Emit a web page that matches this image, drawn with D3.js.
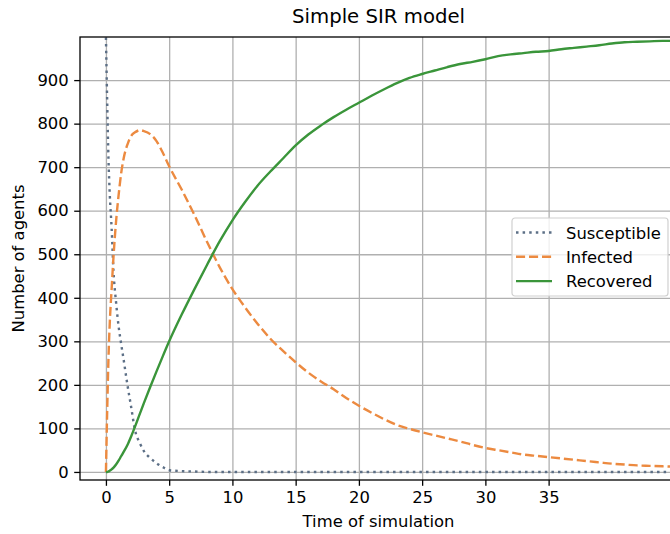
<!DOCTYPE html>
<html>
<head>
<meta charset="utf-8">
<script src="https://cdn.jsdelivr.net/npm/d3@7"></script>
<style>
    body { margin: 0; background: #fff; }
    text { font-family: "DejaVu Sans", sans-serif; fill: #000; }
</style>
</head>
<body>
<div id="chart"></div>
<script>
// values
var times = [0, 0.1, 0.2, 0.3, 0.45, 0.6, 0.8, 1, 1.2, 1.4, 1.7, 2, 2.3, 2.7, 3, 3.5, 4, 4.5, 5,
    6, 7, 8, 9, 10, 11, 12, 13, 14, 15, 16, 17, 18, 19, 20, 21, 22, 23, 24, 25, 26, 27, 28, 29, 30,
    31, 32, 33, 34, 35, 36, 37, 38, 39, 40, 41, 42, 43, 44, 45, 46];
var susceptible = [998, 850, 720, 640, 560, 460, 390, 335, 295, 258, 200, 148, 96, 65, 48, 32, 20, 11, 4,
    2, 1, 0, 0, 0, 0, 0, 0, 0, 0, 0, 0, 0, 0, 0, 0, 0, 0, 0, 0, 0, 0, 0, 0, 0,
    0, 0, 0, 0, 0, 0, 0, 0, 0, 0, 0, 0, 0, 0, 0, 0];
var infected = [0, 140, 260, 340, 420, 495, 575, 635, 685, 720, 752, 772, 780, 785, 783, 776, 760, 733, 702,
    648, 590, 528, 470, 420, 378, 340, 306, 278, 252, 228, 208, 190, 170, 152, 136, 121, 108, 99, 91, 84, 77, 70, 62, 55,
    50, 45, 40, 37, 34, 31, 28, 25, 22, 19, 17, 15, 14, 13, 12, 11];
var recovered = [0, 0, 1, 3, 6, 10, 17, 26, 36, 46, 62, 82, 104, 135, 158, 195, 231, 266, 300,
    362, 420, 476, 530, 578, 620, 658, 690, 720, 750, 775, 796, 815, 832, 848, 864, 879, 893, 905, 914, 922, 930, 937, 942, 948,
    955, 959, 962, 965, 967, 971, 974, 977, 980, 984, 987, 988, 989, 990, 990, 991];
var seriesNames = ["Susceptible", "Infected", "Recovered"];
var xTicks = [0, 5, 10, 15, 20, 25, 30, 35];
var yTicks = [0, 100, 200, 300, 400, 500, 600, 700, 800, 900];

var ctx = {
    w: 670,
    h: 534,
    left: 80,
    right: 677,
    top: 37,
    bottom: 480,
    fontSize: 16.4,
    colors: ["#5c6f86", "#ec8a40", "#3a953a"],
    dashes: ["2.5,4.1", "9.1,3.9", null]
};

var svgEl = d3.select("#chart").append("svg")
    .attr("width", ctx.w)
    .attr("height", ctx.h);

var x = d3.scaleLinear().domain([-2.05, 45.15]).range([ctx.left, ctx.right]);
var y = d3.scaleLinear().domain([-18.5, 999]).range([ctx.bottom, ctx.top]);

// grid
svgEl.append("g")
    .attr("class", "grid")
    .attr("transform", "translate(0," + ctx.bottom + ")")
    .call(d3.axisBottom(x).tickValues(xTicks).tickSize(-(ctx.bottom - ctx.top)).tickFormat(""));
svgEl.append("g")
    .attr("class", "grid")
    .attr("transform", "translate(" + ctx.left + ",0)")
    .call(d3.axisLeft(y).tickValues(yTicks).tickSize(-(ctx.right - ctx.left)).tickFormat(""));
svgEl.selectAll(".grid .domain").remove();
svgEl.selectAll(".grid line")
    .attr("stroke", "#b0b0b0")
    .attr("stroke-width", 1.3);

// lines
svgEl.append("clipPath").attr("id", "plotClip")
    .append("rect")
    .attr("x", ctx.left).attr("y", ctx.top)
    .attr("width", ctx.right - ctx.left).attr("height", ctx.bottom - ctx.top);

var line = d3.line()
    .x(function(d) { return x(d[0]); })
    .y(function(d) { return y(d[1]); })
    .curve(d3.curveMonotoneX);

[susceptible, infected, recovered].forEach(function(values, i) {
    var pts = times.map(function(t, j) { return [t, values[j]]; });
    svgEl.append("path")
        .datum(pts)
        .attr("clip-path", "url(#plotClip)")
        .attr("fill", "none")
        .attr("stroke", ctx.colors[i])
        .attr("stroke-width", 2.4)
        .attr("stroke-dasharray", ctx.dashes[i])
        .attr("d", line);
});

// axes
var xAxis = svgEl.append("g")
    .attr("transform", "translate(0," + ctx.bottom + ")")
    .call(d3.axisBottom(x).tickValues(xTicks).tickSize(5.8).tickPadding(5.5));
var yAxis = svgEl.append("g")
    .attr("transform", "translate(" + ctx.left + ",0)")
    .call(d3.axisLeft(y).tickValues(yTicks).tickSize(5.8).tickPadding(5.5));
[xAxis, yAxis].forEach(function(a) {
    a.select(".domain").remove();
    a.selectAll("line").attr("stroke", "#000").attr("stroke-width", 1.3);
    a.selectAll("text")
        .attr("font-size", ctx.fontSize)
        .attr("font-family", "DejaVu Sans")
        .attr("fill", "#000");
});

// frame
svgEl.append("rect")
    .attr("x", ctx.left).attr("y", ctx.top)
    .attr("width", ctx.right - ctx.left).attr("height", ctx.bottom - ctx.top)
    .attr("fill", "none")
    .attr("stroke", "#000")
    .attr("stroke-width", 1.3);

// titles
svgEl.append("text")
    .attr("x", (ctx.left + ctx.right) / 2).attr("y", 23)
    .attr("text-anchor", "middle")
    .attr("font-size", 19.7)
    .text("Simple SIR model");
svgEl.append("text")
    .attr("x", (ctx.left + ctx.right) / 2).attr("y", 527)
    .attr("text-anchor", "middle")
    .attr("font-size", ctx.fontSize)
    .text("Time of simulation");
svgEl.append("text")
    .attr("transform", "translate(24," + (ctx.top + ctx.bottom) / 2 + ") rotate(-90)")
    .attr("text-anchor", "middle")
    .attr("font-size", ctx.fontSize)
    .text("Number of agents");

// legend
var legendG = svgEl.append("g")
    .attr("transform", "translate(512,218)");
legendG.append("rect")
    .attr("width", 156).attr("height", 78)
    .attr("rx", 3)
    .attr("fill", "#fff").attr("fill-opacity", 0.8)
    .attr("stroke", "#d0d0d0").attr("stroke-width", 1.2);
seriesNames.forEach(function(s, i) {
    var cy = 14.5 + i * 24.3;
    legendG.append("line")
        .attr("x1", 4).attr("x2", 40)
        .attr("y1", cy).attr("y2", cy)
        .attr("stroke", ctx.colors[i])
        .attr("stroke-width", 2.4)
        .attr("stroke-dasharray", ctx.dashes[i]);
    legendG.append("text")
        .attr("x", 54).attr("y", cy + 6)
        .attr("font-size", ctx.fontSize)
        .text(s);
});
</script>
</body>
</html>
